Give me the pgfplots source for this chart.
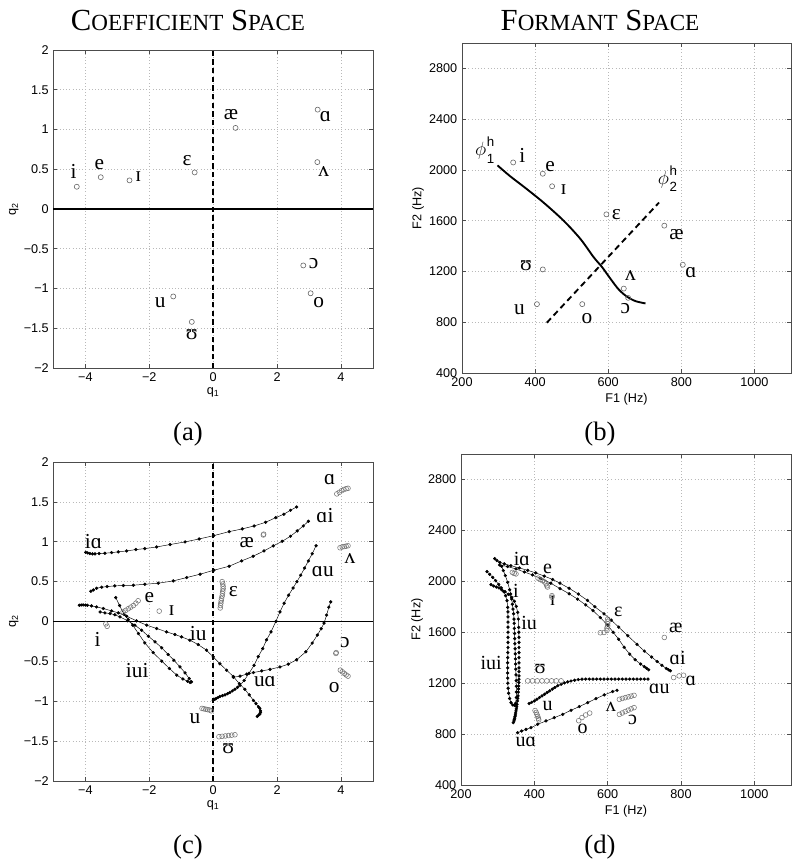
\documentclass[border=0pt]{standalone}
\usepackage{fontspec}
\setmainfont{Liberation Serif}
\setsansfont{Liberation Sans}
\usepackage{pgfplots}
\pgfplotsset{compat=1.18}

\newcommand\ph{\fontsize{16}{16}\selectfont}
\newcommand\phd{\fontsize{15}{15}\selectfont}
\newcommand\sm{\fontsize{17.3}{17.3}\selectfont}
\newcommand\basis[1]{\fontsize{14}{14}\selectfont$\phi$\hspace{0.5pt}%
  {\sffamily\fontsize{10}{10}\selectfont\begin{tabular}[c]{@{}l@{}}h\\[2.5pt]#1\end{tabular}}}

\tikzset{
  lab/.style={inner sep=0pt, font=\ph},
  labd/.style={inner sep=0pt, font=\phd},
}
\pgfplotsset{
  panel/.style={
    scale only axis, anchor=south west, clip=false,
    grid=major,
    major grid style={dotted, gray!55, line width=0.45pt},
    axis line style={gray!60!black, line width=0.4pt},
    tick style={gray!60!black, line width=0.4pt},
    major tick length=3pt,
    /pgf/number format/assume math mode=true,
    tick label style={font=\sffamily\fontsize{9.5}{10}\selectfont},
    label style={font=\sffamily\fontsize{9.5}{10}\selectfont},
  },
  qpanel/.style={panel,
    xmin=-5, xmax=5, ymin=-2, ymax=2,
    xtick={-4,-2,0,2,4}, xticklabels={−4,−2,0,2,4},
    ytick={-2,-1.5,...,2}, yticklabels={−2,−1.5,−1,−0.5,0,0.5,1,1.5,2},
    xlabel={q\textsubscript{1}}, ylabel={q\textsubscript{2}},
    xlabel style={yshift=2pt}, ylabel style={yshift=-3pt},
  },
  fpanel/.style={panel,
    xmin=200, xmax=1100, ymin=400, ymax=3000,
    xtick={200,400,600,800,1000}, ytick={400,800,...,2800},
    xticklabel style={/pgf/number format/1000 sep={}},
    yticklabel style={/pgf/number format/1000 sep={}},
    xlabel={F1 (Hz)}, ylabel={F2 (Hz)},
    xlabel style={yshift=2pt}, ylabel style={yshift=-3pt},
  },
  tgt/.style={only marks, mark=o, mark size=1.9pt, mark options={black!60, line width=0.45pt}},
  tgtc/.style={only marks, mark=o, mark size=1.8pt, mark options={black!55, line width=0.4pt}},
  traj/.style={black, line width=0.35pt, mark=*, mark size=1.05pt, mark options={solid, fill=black, draw=black}},
}

\begin{document}
\begin{tikzpicture}
\useasboundingbox (0,0) rectangle (600pt,648.75pt);

% titles and panel letters
\node[anchor=base, font=\fontsize{23}{23}\selectfont] at (141pt,626pt)
  {C{\sm OEFFICIENT} S{\sm PACE}};
\node[anchor=base, font=\fontsize{23}{23}\selectfont] at (450pt,626pt)
  {F{\sm ORMANT} S{\sm PACE}};
\node[anchor=base, font=\fontsize{20}{20}\selectfont] at (141pt,318pt) {(a)};
\node[anchor=base, font=\fontsize{20}{20}\selectfont] at (450pt,318pt) {(b)};
\node[anchor=base, font=\fontsize{20}{20}\selectfont] at (141pt,9pt) {(c)};
\node[anchor=base, font=\fontsize{20}{20}\selectfont] at (450pt,9pt) {(d)};

% (a) coefficient space, targets
\begin{axis}[qpanel, at={(40.1pt,372.75pt)}, width=239.6pt, height=238.5pt]
\addplot[black, line width=1.3pt] coordinates {(-5,0) (5,0)};
\addplot[black, line width=1.3pt, dash pattern=on 4pt off 2.5pt] coordinates {(0,-2) (0,2)};
\addplot[tgt] coordinates {(-4.27,0.28) (-3.52,0.40) (-2.62,0.36) (-0.58,0.46) (0.70,1.02)
  (3.27,1.25) (3.26,0.59) (2.82,-0.71) (3.05,-1.06) (-1.25,-1.10) (-0.67,-1.42)};
\node[lab] at (axis cs:-4.37,0.47) {i};
\node[lab] at (axis cs:-3.56,0.56) {e};
\node[lab] at (axis cs:-2.34,0.41) {ɪ};
\node[lab] at (axis cs:-0.82,0.61) {ɛ};
\node[lab] at (axis cs:0.56,1.19) {æ};
\node[lab] at (axis cs:3.51,1.16) {ɑ};
\node[lab] at (axis cs:3.46,0.47) {ʌ};
\node[lab] at (axis cs:3.14,-0.69) {ɔ};
\node[lab] at (axis cs:3.30,-1.18) {o};
\node[lab] at (axis cs:-1.66,-1.18) {u};
\node[lab] at (axis cs:-0.67,-1.58) {ʊ};
\end{axis}

% (b) formant space, targets and basis curves
\begin{axis}[fpanel, at={(346.5pt,369pt)}, width=246.75pt, height=247.5pt]
\addplot[black, line width=1.4pt, smooth] coordinates {(297,2036) (331,1952) (372,1861) (423,1743)
  (478,1600) (524,1456) (560,1313) (583,1235) (606,1143) (629,1057) (652,1000) (675,966) (702,948)};
\addplot[black, line width=1.4pt, dash pattern=on 4.5pt off 3pt] coordinates {(432,796) (739,1743)};
\addplot[tgt] coordinates {(340,2059) (421,1970) (446.5,1871) (595,1650) (753.5,1561) (804,1253)
  (642.6,1065) (654.5,992) (529,942.5) (405,942.5) (421,1216)};
\node[lab] at (axis cs:365,2116) {i};
\node[lab] at (axis cs:441,2023) {e};
\node[lab] at (axis cs:478,1848) {ɪ};
\node[lab] at (axis cs:622,1652) {ɛ};
\node[lab] at (axis cs:787,1488) {æ};
\node[lab] at (axis cs:826,1195) {ɑ};
\node[lab] at (axis cs:661,1169) {ʌ};
\node[lab] at (axis cs:647,908) {ɔ};
\node[lab] at (axis cs:542,830) {o};
\node[lab] at (axis cs:357,901) {u};
\node[lab] at (axis cs:375,1248) {ʊ};
\node[inner sep=0pt] at (axis cs:262,2140) {\basis{1}};
\node[inner sep=0pt] at (axis cs:762,1915) {\basis{2}};
\end{axis}

% (c) coefficient space, diphthong trajectories
\begin{axis}[qpanel, at={(40.1pt,63pt)}, width=239.6pt, height=239.25pt]
\addplot[black, line width=1.3pt] coordinates {(-5,0) (5,0)};
\addplot[black, line width=1.3pt, dash pattern=on 4pt off 2.5pt] coordinates {(0,-2) (0,2)};
% ia
\addplot[traj] coordinates {(-3.99,0.868) (-3.93,0.860) (-3.86,0.852) (-3.78,0.848) (-3.70,0.848)
  (-3.57,0.852) (-3.39,0.856) (-3.18,0.864) (-2.97,0.873) (-2.71,0.885) (-2.42,0.902) (-2.14,0.914)
  (-1.77,0.935) (-1.35,0.965) (-0.88,0.998) (-0.44,1.035) (0.02,1.077) (0.50,1.127) (0.91,1.161)
  (1.28,1.198) (1.64,1.244) (1.96,1.303) (2.21,1.345) (2.42,1.395) (2.61,1.436)};
% ai
\addplot[traj] coordinates {(-3.83,0.380) (-3.75,0.396) (-3.65,0.417) (-3.49,0.430) (-3.32,0.438)
  (-3.08,0.447) (-2.81,0.451) (-2.50,0.455) (-2.14,0.467) (-1.72,0.480) (-1.25,0.509) (-0.83,0.551)
  (-0.41,0.593) (0.02,0.643) (0.50,0.693) (0.89,0.760) (1.25,0.818) (1.59,0.885) (1.88,0.948)
  (2.16,1.006) (2.42,1.069) (2.63,1.136) (2.82,1.198) (2.98,1.257)};
% au
\addplot[traj] coordinates {(0.0,-0.986) (0.05,-0.975) (0.09,-0.965) (0.15,-0.953) (0.21,-0.94)
  (0.29,-0.93) (0.37,-0.92) (0.45,-0.905) (0.52,-0.89) (0.60,-0.87) (0.68,-0.85) (0.76,-0.825)
  (0.84,-0.80) (0.97,-0.74) (1.12,-0.65) (1.28,-0.55) (1.41,-0.44) (1.55,-0.34) (1.67,-0.23)
  (1.81,-0.13) (1.96,0.0) (2.09,0.12) (2.22,0.23) (2.36,0.33) (2.50,0.42) (2.62,0.50) (2.74,0.58)
  (2.86,0.67) (2.98,0.76) (3.10,0.85) (3.22,0.95)};
% ua
\addplot[traj] coordinates {(0.63,-0.70) (0.84,-0.685) (1.05,-0.66) (1.26,-0.64) (1.52,-0.62)
  (1.78,-0.60) (2.09,-0.57) (2.35,-0.535) (2.61,-0.48) (2.90,-0.38) (3.10,-0.27) (3.26,-0.17)
  (3.38,-0.09) (3.47,-0.02) (3.55,0.08) (3.62,0.18) (3.68,0.246)};
% iu
\addplot[traj] coordinates {(-4.19,0.204) (-4.13,0.207) (-4.07,0.208) (-4.0,0.206) (-3.94,0.204)
  (-3.81,0.196) (-3.65,0.183) (-3.44,0.163) (-3.18,0.133) (-2.97,0.108) (-2.71,0.066) (-2.40,0.008)
  (-2.08,-0.046) (-1.77,-0.088) (-1.46,-0.13) (-1.20,-0.163) (-0.99,-0.193) (-0.73,-0.234)
  (-0.47,-0.289) (-0.21,-0.36) (0.0,-0.443) (0.21,-0.53) (0.42,-0.61) (0.63,-0.69) (0.82,-0.78)
  (0.99,-0.85) (1.13,-0.92) (1.26,-0.99) (1.34,-1.03) (1.42,-1.07) (1.46,-1.09) (1.48,-1.12)
  (1.48,-1.14) (1.46,-1.16) (1.42,-1.175) (1.38,-1.19)};
% iui
\addplot[traj] coordinates {(-3.05,0.30) (-2.93,0.20) (-2.79,0.09) (-2.66,0.025) (-2.52,-0.046)
  (-2.34,-0.151) (-2.14,-0.268) (-1.88,-0.39) (-1.61,-0.497) (-1.37,-0.589) (-1.14,-0.673)
  (-0.95,-0.72) (-0.80,-0.75) (-0.72,-0.765) (-0.68,-0.757) (-0.75,-0.715) (-0.88,-0.644)
  (-1.04,-0.569) (-1.23,-0.485) (-1.41,-0.414) (-1.61,-0.33) (-1.82,-0.255) (-2.03,-0.184)
  (-2.24,-0.109) (-2.45,-0.046) (-2.68,0.01) (-2.92,0.058) (-3.08,0.085) (-3.23,0.10)
  (-3.39,0.108) (-3.54,0.12)};
% target clusters
\addplot[tgtc] coordinates {(3.87,1.60) (3.95,1.62) (4.02,1.64) (4.09,1.655) (4.16,1.665) (4.22,1.67)
  (3.97,0.925) (4.04,0.935) (4.10,0.94) (4.16,0.945) (4.22,0.95)
  (1.57,1.085) (1.58,1.095)
  (0.28,0.50) (0.30,0.47) (0.31,0.44) (0.31,0.41) (0.30,0.38) (0.29,0.35) (0.28,0.32) (0.26,0.29)
  (0.25,0.26) (0.24,0.23) (0.23,0.20) (0.22,0.17)
  (-2.82,0.12) (-2.74,0.14) (-2.66,0.16) (-2.58,0.18) (-2.50,0.20) (-2.42,0.23) (-2.35,0.26)
  (-1.69,0.13)
  (-3.36,-0.03) (-3.32,-0.06)
  (-0.35,-1.09) (-0.29,-1.095) (-0.23,-1.10) (-0.17,-1.105) (-0.11,-1.11) (-0.06,-1.12)
  (0.18,-1.445) (0.28,-1.44) (0.38,-1.435) (0.48,-1.43) (0.58,-1.425) (0.68,-1.42)
  (3.84,-0.40) (3.85,-0.39)
  (3.98,-0.61) (4.04,-0.63) (4.10,-0.65) (4.16,-0.67) (4.22,-0.685)};
\node[lab] at (axis cs:-3.75,1.0) {iɑ};
\node[lab] at (axis cs:3.50,1.33) {ɑi};
\node[lab] at (axis cs:3.43,0.63) {ɑu};
\node[lab] at (axis cs:-0.47,-0.15) {iu};
\node[lab] at (axis cs:-2.38,-0.62) {iui};
\node[lab] at (axis cs:1.62,-0.75) {uɑ};
\node[lab] at (axis cs:3.65,1.78) {ɑ};
\node[lab] at (axis cs:4.28,0.79) {ʌ};
\node[lab] at (axis cs:1.05,0.99) {æ};
\node[lab] at (axis cs:0.63,0.38) {ɛ};
\node[lab] at (axis cs:-2.0,0.30) {e};
\node[lab] at (axis cs:-1.30,0.14) {ɪ};
\node[lab] at (axis cs:-3.62,-0.23) {i};
\node[lab] at (axis cs:-0.57,-1.22) {u};
\node[lab] at (axis cs:0.47,-1.59) {ʊ};
\node[lab] at (axis cs:4.12,-0.27) {ɔ};
\node[lab] at (axis cs:3.79,-0.83) {o};
\end{axis}

% (d) formant space, diphthong trajectories
\begin{axis}[fpanel, at={(345.75pt,60pt)}, width=247.5pt, height=248.25pt]
% ia
\addplot[traj] coordinates {(292,2178) (298,2163) (306,2148) (318,2137) (336,2123) (359,2105)
  (382,2086) (404,2066) (427,2041) (450,2014) (470,1985) (495,1945) (520,1900) (545,1850)
  (565,1800) (590,1745) (610,1695) (630,1640) (655,1572) (680,1505) (700,1452) (720,1405)
  (735,1370) (748,1340) (760,1315) (766,1305) (771,1297)};
% ai
\addplot[traj] coordinates {(305,2128) (327,2116) (350,2097) (373,2073) (395,2050) (418,2022)
  (445,1985) (470,1943) (495,1902) (518,1860) (540,1815) (560,1770) (580,1715) (600,1655)
  (615,1600) (630,1545) (645,1482) (660,1428) (675,1384) (690,1350) (700,1330) (706,1317) (712,1305)};
% iui
\addplot[traj] coordinates {(270.9,2076) (278.2,2055) (286.4,2031) (294.5,2005) (302.7,1976)
  (310,1948) (316.4,1919) (321.8,1887) (325.5,1848) (327.3,1795) (328,1760) (328.2,1720)
  (328.2,1680) (328.2,1640) (328.2,1600) (328.2,1560) (328.2,1520) (328.2,1480) (327.8,1440)
  (327.5,1400) (327.3,1360) (327.3,1320) (327.3,1280) (327.5,1240) (327.8,1200) (328.5,1160)
  (330,1121) (332.7,1079) (336.4,1047) (340.9,1029) (345.5,1026) (349.1,1042) (350.9,1087)
  (351,1130) (350.9,1175) (350.5,1220) (350,1265) (349.5,1310) (349,1350) (348.5,1390)
  (348,1430) (347.5,1470) (347,1510) (346.5,1550) (346,1590) (345.5,1630) (345,1670)
  (344.5,1703) (343.5,1745) (341.8,1782) (340,1820) (338.2,1861) (335.5,1900) (332.7,1934)
  (327.3,1992) (320.9,2045) (315.5,2084) (310.9,2118)};
% iu
\addplot[traj] coordinates {(281.8,1974) (289.1,1963) (296.4,1955) (303.6,1948) (310.9,1934)
  (320,1919) (329.1,1898) (338.2,1874) (345.5,1843) (350.9,1803) (354.5,1756) (356.4,1703)
  (357.3,1638) (357.8,1600) (358.2,1560) (358.2,1520) (358.2,1480) (358.2,1440) (358.2,1400)
  (358.2,1360) (358.2,1320) (358.2,1290) (358.2,1257) (358,1230) (357.8,1205) (357.3,1178)
  (356.8,1155) (356.2,1130) (355.5,1100) (354.8,1080) (354,1060) (352.7,1034) (351.8,1015)
  (350.8,998) (350,982) (349,965) (348.2,950) (347.3,937) (346.2,925) (345.3,913) (344.5,903)
  (342.7,890)};
% au
\addplot[traj] coordinates {(386,1040) (393,1050) (400,1060) (407,1073) (414,1087) (421,1100)
  (428,1113) (435,1127) (442,1140) (449,1153) (456,1166) (464,1180) (473,1192) (482,1202)
  (491,1210) (500,1217) (510,1223) (520,1228) (530,1231) (540,1232) (550,1232) (560,1232)
  (570,1232) (580,1232) (590,1232) (600,1232) (610,1232) (620,1232) (630,1232) (640,1232)
  (650,1232) (660,1232) (670,1232) (680,1232) (690,1232) (700,1232) (710,1232)};
% ua
\addplot[traj] coordinates {(354.5,811) (365.5,824) (377.3,837) (390.9,850) (409.1,877)
  (431.8,903) (454.5,929) (477.3,955) (500,987) (522.7,1016) (545.5,1047) (568.2,1079)
  (590.9,1108) (613.6,1134) (625.5,1144)};
% target clusters
\addplot[tgtc] coordinates {(382,1218) (395,1218) (408,1218) (421,1218) (434,1218) (447,1218)
  (460,1218) (473,1218)
  (402,985) (405,970) (407,955) (409,940) (411,925) (412,912)
  (521,905) (530,930) (540,950) (551,965)
  (632,1073) (640,1080) (648,1086) (656,1092) (664,1098) (672,1104)
  (632,955) (640,966) (648,977) (656,988) (664,998) (672,1008)
  (780,1244) (795,1257) (807,1262)
  (754.5,1559)
  (600,1703) (601,1685) (600,1667) (600,1649) (598,1633) (598,1614) (590,1598) (580,1596)
  (410,2025) (416,2015) (422,2005) (428,1995) (432,1980) (434,1965) (436,1955)
  (448,1887) (448,1875)
  (340,2070) (345,2062) (350,2058)};
\node[labd] at (axis cs:366,2176) {iɑ};
\node[labd] at (axis cs:436,2097) {e};
\node[labd] at (axis cs:350,1926) {i};
\node[labd] at (axis cs:450,1848) {ɪ};
\node[labd] at (axis cs:386,1672) {iu};
\node[labd] at (axis cs:629,1756) {ɛ};
\node[labd] at (axis cs:786,1638) {æ};
\node[labd] at (axis cs:282,1362) {iui};
\node[labd] at (axis cs:791,1394) {ɑi};
\node[labd] at (axis cs:416,1310) {ʊ};
\node[labd] at (axis cs:827,1218) {ɑ};
\node[labd] at (axis cs:741,1152) {ɑu};
\node[labd] at (axis cs:436,1021) {u};
\node[labd] at (axis cs:609,1012) {ʌ};
\node[labd] at (axis cs:668,908) {ɔ};
\node[labd] at (axis cs:532,843) {o};
\node[labd] at (axis cs:377,738) {uɑ};
\end{axis}
\end{tikzpicture}
\end{document}
